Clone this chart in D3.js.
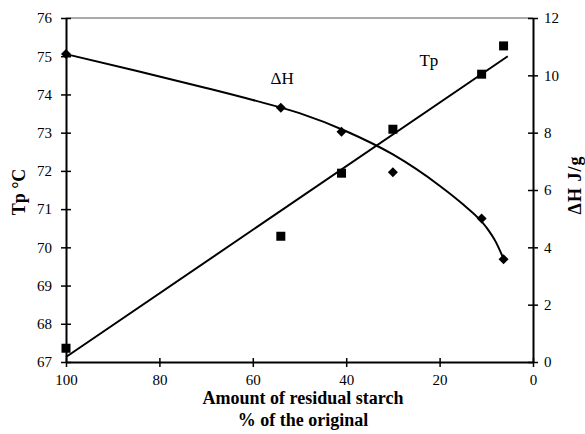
<!DOCTYPE html>
<html lang='en'>
<head>
  <meta charset='UTF-8'>
  <title>Tp and ΔH vs residual starch</title>
  <style>
  body { margin: 0; background: #fff; }
  svg { display: block; }
  text { font-family: 'Liberation Serif', 'Times New Roman', serif; fill: #000; }
  .tick text { font-size: 15px; }
  .axis path { stroke: #000; stroke-width: 2px; }
  .axis line { stroke: #000; stroke-width: 1.5px; }
  .title { font-size: 18px; font-weight: bold; }
  .series-label { font-size: 17px; }
  </style>
  <script src="https://d3js.org/d3.v7.min.js"></script>
</head>
<body>
  <script>

  // data
  var residual = [100, 54, 41, 30, 11, 6.3];         // % of the original
  var tp = [67.36, 70.29, 71.94, 73.09, 74.53, 75.27]; // Tp °C (squares)
  var dH = [10.74, 8.87, 8.03, 6.62, 5.01, 3.58];     // ΔH J/g (diamonds)

  // fitted Tp line (end points)
  var tpFitX = [100, 5.4];
  var tpFitY = [67.13, 75.0];

  // fitted ΔH curve, sampled from the figure
  var dhFitX = [100, 85, 70, 60, 50, 40, 30, 20, 15, 10, 8, 6.3];
  var dhFitY = [10.74, 10.16, 9.56, 9.14, 8.68, 8.05, 7.24, 6.15, 5.5, 4.7, 4.2, 3.6];

  var xTicks = [100, 80, 60, 40, 20, 0];
  var tpTicks = [67, 68, 69, 70, 71, 72, 73, 74, 75, 76];
  var dhTicks = [0, 2, 4, 6, 8, 10, 12];

  var svgWidth = 585, svgHeight = 434;
  var margin = { top: 18, right: 52, bottom: 72, left: 66 };
  var width = svgWidth - margin.left - margin.right;
  var height = svgHeight - margin.top - margin.bottom;

  var svg = d3.select('body').append('svg')
    .attr('width', svgWidth).attr('height', svgHeight);
  var g = svg.append('g').attr('transform', 'translate(' + margin.left + ',' + margin.top + ')');

  var x = d3.scaleLinear().domain([100, 0]).range([0, width]);
  var yL = d3.scaleLinear().domain([67, 76]).range([height, 0]);
  var yR = d3.scaleLinear().domain([0, 12]).range([height, 0]);

  // top frame line
  g.append('line')
   .attr('x1', 0).attr('x2', width).attr('y1', 0).attr('y2', 0)
   .attr('stroke', '#555').attr('stroke-width', 1);

  // axes, ticks crossing the axis line
  function crossTicks(sel, horizontal) {
    sel.selectAll('.tick line').each(function () {
      var l = d3.select(this);
      if (horizontal) l.attr('y1', -4).attr('y2', 5);
      else l.attr('x1', -5).attr('x2', 5);
    });
  }

  var xAxis = g.append('g').attr('class', 'axis')
    .attr('transform', 'translate(0,' + height + ')')
    .call(d3.axisBottom(x).tickValues(xTicks).tickSizeOuter(0).tickPadding(6));
  crossTicks(xAxis, true);

  var lAxis = g.append('g').attr('class', 'axis')
    .call(d3.axisLeft(yL).tickValues(tpTicks).tickSizeOuter(0).tickPadding(8));
  crossTicks(lAxis, false);

  var rAxis = g.append('g').attr('class', 'axis')
    .attr('transform', 'translate(' + width + ',0)')
    .call(d3.axisRight(yR).tickValues(dhTicks).tickSizeOuter(0).tickPadding(5));
  crossTicks(rAxis, false);

  g.selectAll('.domain').attr('stroke-width', 2);

  // fitted lines
  var tpLine = d3.line()
    .x(function (d, i) { return x(tpFitX[i]); })
    .y(function (d) { return yL(d); });
  g.append('path')
   .datum(tpFitY)
   .attr('d', tpLine)
   .attr('fill', 'none').attr('stroke', '#000').attr('stroke-width', 2);

  var dhLine = d3.line()
    .x(function (d, i) { return x(dhFitX[i]); })
    .y(function (d) { return yR(d); })
    .curve(d3.curveMonotoneX);
  g.append('path')
   .datum(dhFitY)
   .attr('d', dhLine)
   .attr('fill', 'none').attr('stroke', '#000').attr('stroke-width', 2);

  // markers
  g.selectAll('.sq')
   .data(tp)
   .enter().append('rect')
   .attr('class', 'sq')
   .attr('x', function (d, i) { return x(residual[i]) - 4.5; })
   .attr('y', function (d) { return yL(d) - 4.5; })
   .attr('width', 9).attr('height', 9)
   .attr('fill', '#000');

  g.selectAll('.dm')
   .data(dH)
   .enter().append('path')
   .attr('class', 'dm')
   .attr('transform', function (d, i) { return 'translate(' + x(residual[i]) + ',' + yR(d) + ')'; })
   .attr('d', 'M0,-5L5,0L0,5L-5,0Z')
   .attr('fill', '#000');

  // series labels
  g.append('text').attr('class', 'series-label')
   .attr('x', x(53.7)).attr('y', 66).attr('text-anchor', 'middle').text('ΔH');
  g.append('text').attr('class', 'series-label')
   .attr('x', x(22.3)).attr('y', 48).attr('text-anchor', 'middle').text('Tp');

  // axis titles
  svg.append('text').attr('class', 'title')
   .attr('text-anchor', 'middle')
   .attr('transform', 'translate(25,192) rotate(-90)')
   .text('Tp °C');

  svg.append('text').attr('class', 'title')
   .attr('text-anchor', 'middle')
   .style('letter-spacing', '1px')
   .attr('transform', 'translate(581,185) rotate(-90)')
   .text('ΔH J/g');

  svg.append('text').attr('class', 'title')
   .attr('text-anchor', 'middle')
   .attr('x', 303).attr('y', 404)
   .text('Amount of residual starch');
  svg.append('text').attr('class', 'title')
   .attr('text-anchor', 'middle')
   .attr('x', 303).attr('y', 426)
   .text('% of the original');
  </script>
</body>
</html>
